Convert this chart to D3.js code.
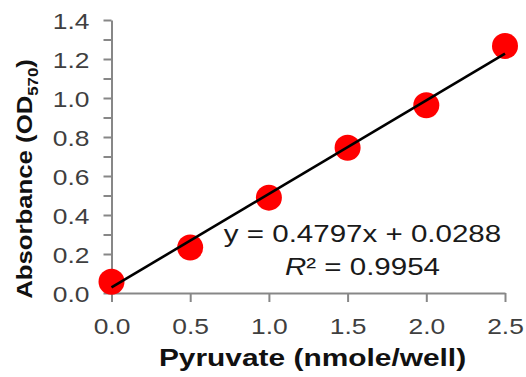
<!DOCTYPE html>
<html>
<head>
<meta charset="utf-8">
<script src="https://cdn.jsdelivr.net/npm/d3@7"></script>
<style>
html,body{margin:0;padding:0;background:#fff;}
svg{display:block;}
</style>
</head>
<body>
<svg id="chart" width="526" height="377"></svg>
<script>
// ---- data ----
const pyruvate = [0, 0.5, 1.0, 1.5, 2.0, 2.5];
const absorbance = [0.058, 0.233, 0.489, 0.745, 0.963, 1.267];
const xTicks = [0, 0.5, 1.0, 1.5, 2.0, 2.5];
const yTicks = [0, 0.1, 0.2, 0.3, 0.4, 0.5, 0.6, 0.7, 0.8, 0.9, 1.0, 1.1, 1.2, 1.3, 1.4];
const yLabelTicks = [0, 0.2, 0.4, 0.6, 0.8, 1.0, 1.2, 1.4];
const fitSlope = [0.4797];
const fitIntercept = [0.0288];
const rSquared = ["0.9954"];
const equationText = ["y = 0.4797x + 0.0288"];

const svg = d3.select("#chart");
const FONT = "'Liberation Sans', Arial, sans-serif";
const AXIS_COLOR = "#878787";
const TEXT_COLOR = "#3f3f3f";

const x = d3.scaleLinear().domain([0, 2.5]).range([111.5, 505]);
const y = d3.scaleLinear().domain([0, 1.4]).range([293, 20]);

// ---- y axis ----
const yAxis = d3.axisLeft(y)
  .tickValues(yTicks)
  .tickSize(8)
  .tickSizeOuter(0)
  .tickFormat(d => yLabelTicks.some(v => Math.abs(v - d) < 1e-9) ? d3.format(".1f")(d) : "");
const gy = svg.append("g").attr("transform", `translate(${x(0)},0)`).call(yAxis);
gy.select(".domain").attr("stroke", AXIS_COLOR).attr("stroke-width", 2);
gy.selectAll(".tick line").attr("stroke", AXIS_COLOR).attr("stroke-width", 2);
gy.selectAll(".tick text")
  .attr("x", null).attr("dy", null)
  .attr("transform", "translate(-22,8) scale(1.2,1)")
  .attr("text-anchor", "end")
  .attr("fill", TEXT_COLOR)
  .style("font-family", FONT)
  .style("font-size", "22px");

// ---- x axis ----
const xAxis = d3.axisBottom(x)
  .tickValues(xTicks)
  .tickSize(9)
  .tickSizeOuter(0)
  .tickFormat(d3.format(".1f"));
const gx = svg.append("g").attr("transform", `translate(0,${y(0)})`).call(xAxis);
gx.select(".domain").attr("stroke", AXIS_COLOR).attr("stroke-width", 2);
gx.selectAll(".tick line").attr("stroke", AXIS_COLOR).attr("stroke-width", 2);
gx.selectAll(".tick text")
  .attr("y", null).attr("dy", null)
  .attr("transform", "translate(0,41) scale(1.2,1)")
  .attr("text-anchor", "middle")
  .attr("fill", TEXT_COLOR)
  .style("font-family", FONT)
  .style("font-size", "22px");

// ---- points ----
svg.append("g").selectAll("circle")
  .data(pyruvate.map((p, i) => ({p, a: absorbance[i]})))
  .join("circle")
  .attr("cx", d => x(d.p))
  .attr("cy", d => y(d.a))
  .attr("r", 13)
  .attr("fill", "#ff0000");

// ---- trend line ----
const xr = d3.extent(pyruvate);
svg.append("line")
  .attr("x1", x(xr[0])).attr("y1", y(fitSlope[0] * xr[0] + fitIntercept[0]))
  .attr("x2", x(xr[1])).attr("y2", y(fitSlope[0] * xr[1] + fitIntercept[0]))
  .attr("stroke", "#000").attr("stroke-width", 2.6);

// ---- equation ----
svg.append("text")
  .attr("transform", "translate(362.5,242) scale(1.23,1)")
  .attr("text-anchor", "middle")
  .attr("fill", "#1a1a1a")
  .style("font-family", FONT).style("font-size", "24px")
  .text(equationText[0]);
const r2 = svg.append("text")
  .attr("transform", "translate(362.5,275) scale(1.23,1)")
  .attr("text-anchor", "middle")
  .attr("fill", "#1a1a1a")
  .style("font-family", FONT).style("font-size", "24px");
r2.append("tspan").style("font-style", "italic").text("R");
r2.append("tspan").text("\u00B2 = " + rSquared[0]);

// ---- axis titles ----
svg.append("text")
  .attr("transform", "translate(312.5,366) scale(1.3,1)")
  .attr("text-anchor", "middle")
  .attr("fill", "#111")
  .style("font-family", FONT).style("font-size", "23px").style("font-weight", "bold")
  .text("Pyruvate (nmole/well)");

const yt = svg.append("text")
  .attr("transform", "translate(32,179) rotate(-90) scale(1.12,1)")
  .attr("text-anchor", "middle")
  .attr("fill", "#111")
  .style("font-family", FONT).style("font-size", "23px").style("font-weight", "bold");
yt.append("tspan").text("Absorbance (OD");
yt.append("tspan").attr("dy", 6).style("font-size", "15px").text("570");
yt.append("tspan").attr("dy", -6).text(")");
</script>
</body>
</html>
